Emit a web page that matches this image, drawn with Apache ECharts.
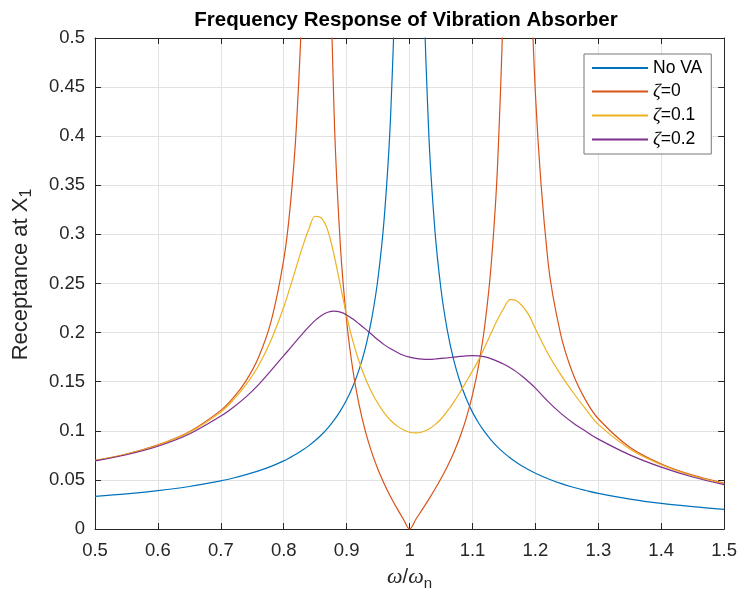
<!DOCTYPE html>
<html>
<head>
<meta charset="utf-8">
<script src="https://cdn.jsdelivr.net/npm/echarts@6/dist/echarts.min.js"></script>
<style>
  html, body { margin: 0; background: #fff; }
  #chart { width: 740px; height: 596px; }
</style>
</head>
<body>
<div id="chart"></div>
<script>
// frequency ratio samples (w/wn)
const xs = [0.50, 0.55, 0.60, 0.65, 0.70, 0.72, 0.74, 0.76, 0.78, 0.80,
  0.81, 0.82, 0.83, 0.84, 0.85, 0.86, 0.87, 0.88, 0.89, 0.90,
  0.91, 0.92, 0.93, 0.94, 0.95, 0.96, 0.97, 0.98, 0.99, 1.00,
  1.01, 1.02, 1.03, 1.04, 1.05, 1.06, 1.07, 1.08, 1.09, 1.10,
  1.11, 1.12, 1.13, 1.14, 1.15, 1.16, 1.17, 1.18, 1.19, 1.20,
  1.22, 1.24, 1.26, 1.28, 1.30, 1.35, 1.40, 1.45, 1.50]

// receptance
const noVA = [0.0333, 0.0358, 0.0391, 0.0433, 0.0490, 0.0519, 0.0553, 0.0592, 0.0638, 0.0694,
  0.0727, 0.0763, 0.0804, 0.0849, 0.0901, 0.0960, 0.1028, 0.1108, 0.1203, 0.1316,
  0.1454, 0.1628, 0.1850, 0.2148, 0.2564, 0.3189, 0.4230, 0.6313, 1.256, null,
  1.244, 0.6188, 0.4105, 0.3064, 0.2439, 0.2023, 0.1725, 0.1502, 0.1329, 0.1190,
  0.1077, 0.0983, 0.0903, 0.0834, 0.0775, 0.0723, 0.0678, 0.0637, 0.0601, 0.0568,
  0.0512, 0.0465, 0.0425, 0.0392, 0.0362, 0.0304, 0.0260, 0.0227, 0.0200]

const zeta0 = [0.0698, 0.0764, 0.0857, 0.0991, 0.1208, 0.1337, 0.1509, 0.1750, 0.2117, 0.2744,
  0.3265, 0.4087, 0.5577, 0.914, 2.91, 2.11, 0.733, 0.425, 0.2888, 0.2116,
  0.1614, 0.1258, 0.0990, 0.0778, 0.0604, 0.0456, 0.0326, 0.0210, 0.0102, 0,
  0.0099, 0.0197, 0.0297, 0.0402, 0.0514, 0.0637, 0.0775, 0.0935, 0.1127, 0.1365,
  0.1674, 0.2095, 0.2714, 0.3726, 0.5708, 1.140, 23.3, 1.329, 0.6607, 0.4435,
  0.2724, 0.1988, 0.1575, 0.1310, 0.1123, 0.0832, 0.0662, 0.0548, 0.0467]

const zeta01 = [0.0697, 0.0762, 0.0853, 0.0984, 0.1192, 0.1315, 0.1470, 0.1665, 0.1925, 0.2260,
  0.2460, 0.2670, 0.2875, 0.3055, 0.3185, 0.3165, 0.3040, 0.2790, 0.2480, 0.2170,
  0.1910, 0.1700, 0.1530, 0.1390, 0.1275, 0.1180, 0.1105, 0.1050, 0.1010, 0.0985,
  0.0978, 0.0988, 0.1015, 0.1060, 0.1120, 0.1200, 0.1290, 0.1390, 0.1500, 0.1610,
  0.1725, 0.1860, 0.2000, 0.2135, 0.2250, 0.2335, 0.2325, 0.2265, 0.2175, 0.2040,
  0.1785, 0.1575, 0.1390, 0.1220, 0.1065, 0.0815, 0.0655, 0.0542, 0.0462]

const zeta02 = [0.0693, 0.0756, 0.0843, 0.0968, 0.1150, 0.1240, 0.1345, 0.1470, 0.1615, 0.1765,
  0.1840, 0.1915, 0.1990, 0.2060, 0.2125, 0.2175, 0.2207, 0.2218, 0.2208, 0.2180,
  0.2138, 0.2088, 0.2035, 0.1980, 0.1925, 0.1875, 0.1835, 0.1800, 0.1770, 0.1750,
  0.1737, 0.1730, 0.1728, 0.1731, 0.1737, 0.1743, 0.1750, 0.1757, 0.1763, 0.1765,
  0.1762, 0.1752, 0.1733, 0.1707, 0.1677, 0.1642, 0.1600, 0.1550, 0.1495, 0.1435,
  0.1300, 0.1180, 0.1080, 0.0995, 0.0915, 0.0755, 0.0630, 0.0530, 0.0452]

const names = ['No VA', 'ζ=0', 'ζ=0.1', 'ζ=0.2']
const colors = ['#0072BD', '#D95319', '#EDB120', '#7E2F8E']
const curves = [noVA, zeta0, zeta01, zeta02]

const font = 'Liberation Sans'
const ink = '#262626'

function pairs(ys) {
  return xs.map((x, i) => [x, ys[i]])
}

function axisBase(pos, min, max, step, labels) {
  return {
    type: 'value',
    position: pos,
    min: min,
    max: max,
    interval: step,
    axisLine: { show: true, onZero: false, lineStyle: { color: ink, width: 1 } },
    axisTick: { show: true, inside: true, length: 6, lineStyle: { color: ink } },
    axisLabel: { show: labels, color: ink, fontFamily: font, fontSize: 18.5, margin: 10 },
    splitLine: { show: labels, lineStyle: { color: '#e2e2e2', width: 1 } }
  }
}

let chart = echarts.init(document.getElementById('chart'), null, { renderer: 'canvas' })

let xBottom = axisBase('bottom', 0.5, 1.5, 0.1, true)
xBottom.axisLabel.margin = 12
xBottom.name = '{i|ω}{t|/}{i|ω}{s|n}'
xBottom.nameLocation = 'middle'
xBottom.nameGap = 34
xBottom.nameTextStyle = {
  rich: {
    i: { fontFamily: 'Liberation Serif', fontStyle: 'italic', fontSize: 22, color: ink },
    t: { fontFamily: font, fontSize: 20, color: ink },
    s: { fontFamily: font, fontSize: 15, color: ink, padding: [13, 0, 0, 0] }
  }
}

let yLeft = axisBase('left', 0, 0.5, 0.05, true)
yLeft.name = '{t|Receptance at X}{s|1}'
yLeft.nameLocation = 'middle'
yLeft.nameGap = 60
yLeft.nameTextStyle = {
  padding: [0, 0, 0, 18],
  rich: {
    t: { fontFamily: font, fontSize: 22, color: ink },
    s: { fontFamily: font, fontSize: 16, color: ink, padding: [13, 0, 0, 0] }
  }
}

let option = {
  backgroundColor: '#fff',
  animation: false,
  grid: { left: 95, right: 15, top: 38, bottom: 65, containLabel: false },
  xAxis: [xBottom, axisBase('top', 0.5, 1.5, 0.1, false)],
  yAxis: [yLeft, axisBase('right', 0, 0.5, 0.05, false)],
  legend: {
    orient: 'vertical',
    left: 584,
    top: 54,
    padding: [5, 9, 5, 7],
    itemGap: 5,
    itemWidth: 56,
    itemHeight: 2,
    itemStyle: { opacity: 0 },
    backgroundColor: '#fff',
    borderColor: '#777',
    borderWidth: 1,
    borderRadius: 0,
    data: names,
    formatter: function (n) {
      return n === 'No VA' ? '{t|No VA}' : '{g|ζ}{t|' + n.slice(1) + '}'
    },
    textStyle: {
      rich: {
        t: { fontFamily: font, fontSize: 17.5, color: '#000' },
        g: { fontFamily: 'Liberation Serif', fontStyle: 'italic', fontSize: 19, color: '#000' }
      }
    }
  },
  graphic: [{
    type: 'text',
    x: 406,
    y: 20,
    style: {
      text: 'Frequency Response of Vibration Absorber',
      font: 'bold 20.5px "Liberation Sans"',
      fill: '#000',
      textAlign: 'center',
      textVerticalAlign: 'middle'
    }
  }],
  series: curves.map((ys, i) => ({
    name: names[i],
    type: 'line',
    xAxisIndex: 0,
    yAxisIndex: 0,
    symbol: 'none',
    smooth: 0.35,
    clip: true,
    color: colors[i],
    lineStyle: { color: colors[i], width: 1.2 },
    data: pairs(ys)
  }))
}

chart.setOption(option)
</script>
</body>
</html>
